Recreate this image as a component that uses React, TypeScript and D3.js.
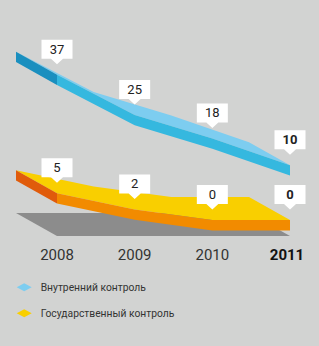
import React from "react";
import * as d3 from "d3";

const years = ["2008", "2009", "2010", "2011"];
const internalValues = [37, 25, 18, 10];
const stateValues = [5, 2, 0, 0];
const legendLabels = ["Внутренний контроль", "Государственный контроль"];

const W = 319;
const H = 346;
const DX = -41;
const DY = -23;
const T = 10.3;

const x = d3.scalePoint<string>().domain(years).range([57, 290]);
const yBlue = d3.scaleLinear().domain([10, 37]).range([165.2, 74.8]);
const yOrange = d3.scaleLinear().domain([0, 5]).range([220.1, 193.3]);

type P = [number, number];

function Ribbon({ values, y, top, front, side, lastBold }: any) {
  const pts: P[] = values.map((v: number, i: number) => [x(years[i])!, y(v)] as P);
  const line = d3.line();
  const topPoly: P[] = [...pts, ...pts.slice().reverse().map(([a, b]) => [a + DX, b + DY] as P)];
  const frontPoly: P[] = [...pts, ...pts.slice().reverse().map(([a, b]) => [a, b + T] as P)];
  const [x0, y0] = pts[0];
  const sidePoly: P[] = [[x0 + DX, y0 + DY], [x0, y0], [x0, y0 + T], [x0 + DX, y0 + DY + T]];
  return (
    <g>
      <path d={line(topPoly)! + "Z"} fill={top} />
      <path d={line(frontPoly)! + "Z"} fill={front} />
      <path d={line(sidePoly)! + "Z"} fill={side} />
      {pts.map(([px, py], i) => {
        const tip = py - 10.5;
        const bottom = tip - 5.5;
        const bw = 31, bh = 19;
        const d = `M${px - bw / 2},${bottom - bh}H${px + bw / 2}V${bottom}H${px + 6}L${px},${tip}L${px - 6},${bottom}H${px - bw / 2}Z`;
        const bold = lastBold && i === pts.length - 1;
        return (
          <g key={i}>
            <path d={d} fill="#ffffff" />
            <text x={px} y={bottom - 5} textAnchor="middle" fontFamily="Roboto, sans-serif" fontSize={13}
              fontWeight={bold ? 700 : 400} fill="#222">{values[i]}</text>
          </g>
        );
      })}
    </g>
  );
}

export default function App() {
  const floorFront = yOrange(0) + 16;
  const floorBack = floorFront + DY;
  const fx0 = x(years[0])!;
  const fx1 = x(years[years.length - 1])!;
  const floor: P[] = [[fx0, floorFront], [fx1, floorFront], [fx1 + DX, floorBack], [fx0 + DX, floorBack]];
  const legendColors = ["#7dcdf0", "#f9cf00"];
  return (
    <svg width={W} height={H} style={{ position: "absolute", left: 0, top: 0 }}>
      <rect width={W} height={H} fill="#d2d3d2" />
      <path d={d3.line()(floor)! + "Z"} fill="#8c8c8c" />
      <Ribbon values={stateValues} y={yOrange} top="#f9cf00" front="#f28b00" side="#e05b0b" lastBold />
      <Ribbon values={internalValues} y={yBlue} top="#7dcdf0" front="#35b8df" side="#1a8fbf" lastBold />
      {years.map((yr, i) => (
        <text key={yr} x={x(yr)! - (i === years.length - 1 ? 3 : 0)} y={259.5} textAnchor="middle"
          fontFamily="Roboto, sans-serif" fontSize={15} fontWeight={i === years.length - 1 ? 700 : 400}
          fill={i === years.length - 1 ? "#111" : "#333"}>{yr}</text>
      ))}
      {legendLabels.map((lab, i) => {
        const cy = 287.3 + i * 26;
        return (
          <g key={lab}>
            <path d={`M16.7,${cy}L24.2,${cy - 4}L31.7,${cy}L24.2,${cy + 4}Z`} fill={legendColors[i]} />
            <text x={40.7} y={cy + 3.8} fontFamily="Roboto, sans-serif" fontSize={10.3} fill="#333">{lab}</text>
          </g>
        );
      })}
    </svg>
  );
}
